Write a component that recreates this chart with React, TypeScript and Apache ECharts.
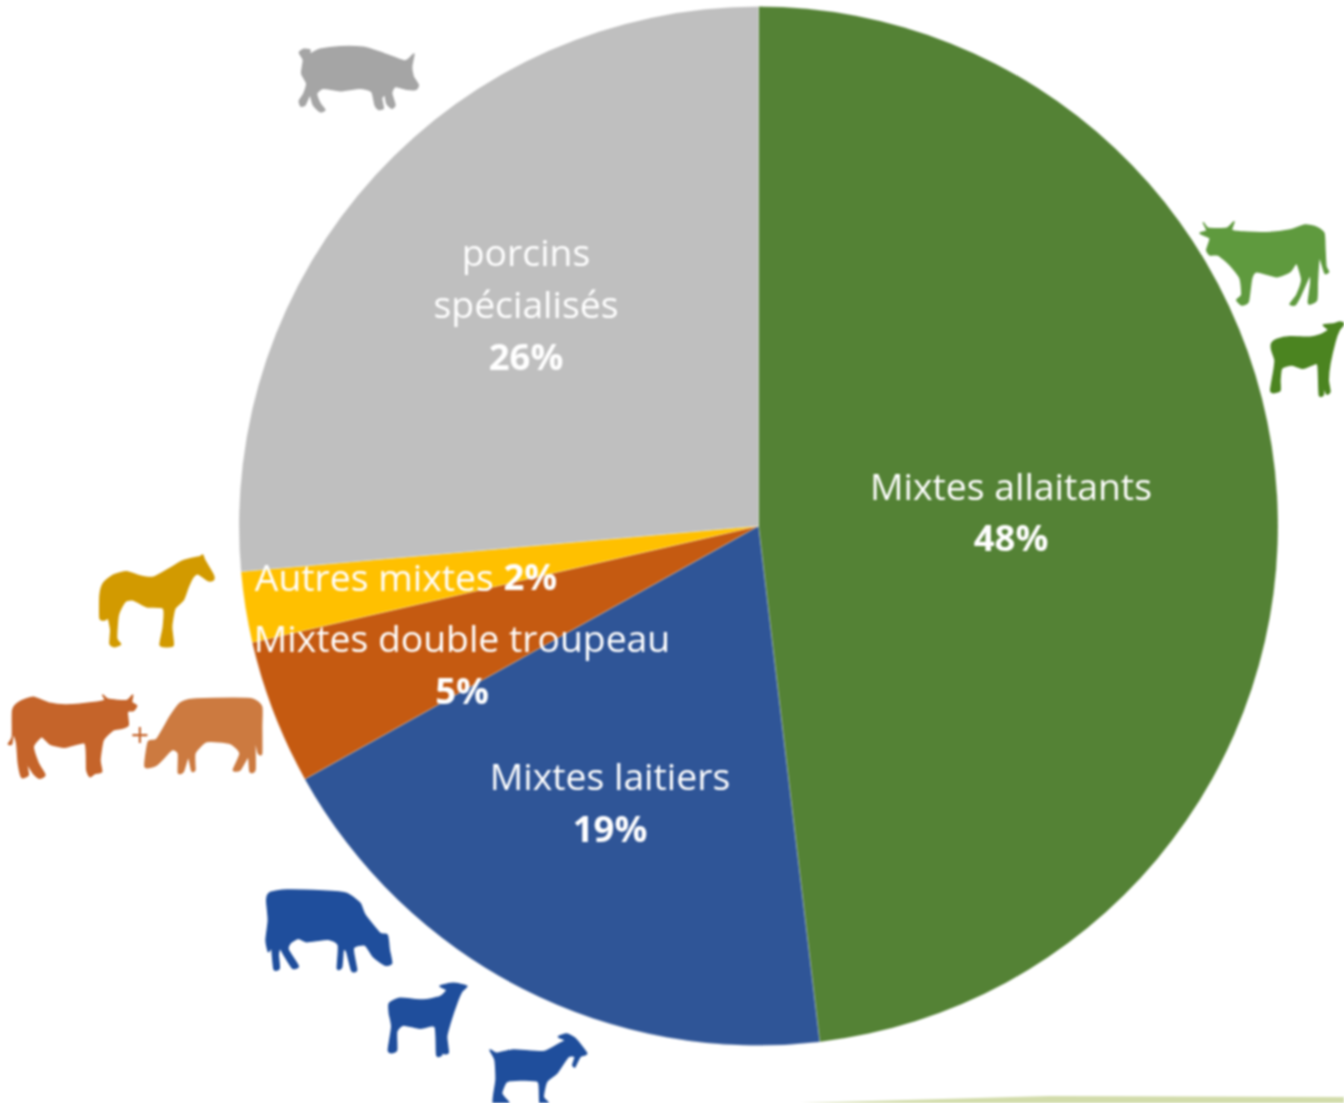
import React, { useEffect, useRef } from "react";
import * as echarts from "echarts";

const categories = ["Mixtes allaitants", "Mixtes laitiers", "Mixtes double troupeau", "Autres mixtes", "porcins spécialisés"];
const shares = [48.12, 18.78, 4.5, 2.2, 26.4];
const sliceColors = ["#548235", "#2f5597", "#c55a11", "#ffc000", "#bfbfbf"];
const labelLines = [["Mixtes allaitants"], ["Mixtes laitiers"], ["Mixtes double troupeau"], [], ["porcins", "spécialisés"]];
const labelCentres = [[1011, 511], [610, 801.5], [462, 663.5], [406, 576], [526, 303.5]];

type Pts = number[][];
const cowGreen: Pts = [[70,68],[85,85],[140,85],[162,65],[155,90],[180,95],[260,98],[330,90],[375,75],[410,82],[432,100],[435,150],[438,200],[446,215],[435,220],[425,190],[420,170],[415,195],[412,250],[410,300],[390,312],[385,305],[392,250],[390,225],[360,290],[345,315],[330,312],[350,285],[365,240],[350,190],[330,215],[290,230],[230,215],[215,235],[205,305],[185,315],[170,300],[185,285],[180,235],[150,195],[115,165],[90,165],[80,150],[90,115],[60,100],[80,92]];
const sheepGreen: Pts = [[430,375],[460,372],[480,366],[492,372],[478,390],[465,425],[450,490],[445,540],[450,575],[440,582],[432,560],[430,585],[418,585],[415,510],[410,490],[370,505],[335,495],[305,505],[300,540],[300,572],[280,578],[272,570],[282,510],[285,480],[275,450],[275,430],[290,418],[330,410],[390,412],[420,405],[445,390]];
const pig: Pts = [[58,68],[72,58],[90,60],[90,72],[120,58],[180,50],[250,52],[310,70],[370,92],[385,88],[402,72],[395,110],[400,140],[415,165],[408,178],[380,178],[345,170],[335,190],[345,225],[335,235],[320,220],[315,195],[305,205],[310,235],[295,238],[285,225],[275,185],[240,175],[180,182],[130,175],[110,190],[120,220],[135,240],[120,245],[100,225],[90,195],[75,225],[62,228],[58,212],[72,190],[80,160],[65,130],[70,90]];
const horse: Pts = [[300,165],[310,130],[340,105],[380,95],[420,108],[460,112],[510,85],[550,62],[600,50],[608,45],[615,62],[640,105],[640,120],[625,122],[595,102],[580,110],[565,140],[550,180],[525,205],[515,260],[520,315],[500,320],[480,315],[490,260],[490,205],[440,200],[400,180],[375,185],[355,225],[350,295],[362,312],[345,320],[330,312],[332,270],[325,235],[315,240],[300,235]];
const cowOrange: Pts = [[38,510],[60,485],[100,472],[150,490],[200,495],[290,487],[315,480],[308,465],[325,478],[380,482],[398,465],[395,487],[410,497],[400,512],[382,515],[385,555],[365,565],[340,570],[310,600],[300,660],[305,695],[285,700],[270,710],[260,690],[255,610],[195,622],[150,612],[125,590],[100,620],[115,670],[135,705],[118,715],[100,700],[80,670],[85,705],[65,712],[55,670],[50,610],[40,580],[35,612],[25,612],[37,590]];
const cowLight: Pts = [[435,680],[445,605],[470,598],[510,530],[540,490],[580,478],[700,475],[760,478],[785,500],[785,560],[785,640],[775,640],[765,600],[765,690],[750,695],[745,650],[720,690],[700,690],[720,640],[690,610],[620,605],[585,640],[585,690],[575,692],[565,650],[550,695],[535,698],[535,640],[515,630],[470,675]];
const cowBlue: Pts = [[50,60],[60,38],[110,30],[220,33],[290,40],[330,70],[345,105],[390,160],[412,165],[418,210],[425,250],[405,255],[370,230],[345,195],[310,205],[320,270],[305,272],[290,215],[280,210],[275,262],[262,265],[265,195],[235,178],[170,185],[145,175],[120,190],[115,210],[145,258],[128,265],[105,230],[90,205],[85,225],[88,265],[72,268],[65,205],[55,215],[48,180],[55,120]];
const sheepBlue: Pts = [[418,370],[450,355],[520,360],[570,350],[590,330],[570,318],[610,310],[650,318],[635,335],[620,370],[600,430],[590,470],[595,518],[580,520],[575,500],[575,525],[560,525],[555,440],[510,445],[460,435],[440,455],[440,510],[425,518],[415,510],[425,440],[418,400]];
const goat: Pts = [[720,510],[740,520],[790,510],[880,515],[930,490],[945,480],[925,470],[950,462],[975,475],[1010,520],[990,530],[975,560],[968,555],[975,530],[955,530],[920,580],[890,605],[880,650],[895,669],[870,669],[865,605],[810,600],[770,605],[755,640],[770,660],[775,669],[730,669],[738,600],[735,540]];

// Closed Catmull-Rom outline through the traced points, so the silhouettes read as organic shapes.
const toPath = (pts: Pts, ox: number, oy: number) => {
  const q = pts.map((p) => [ox + p[0] / 3, oy + p[1] / 3]);
  const n = q.length;
  const f = (v: number) => v.toFixed(1);
  let d = `M${f(q[0][0])} ${f(q[0][1])}`;
  for (let i = 0; i < n; i++) {
    const a = q[(i - 1 + n) % n], b = q[i], c = q[(i + 1) % n], e = q[(i + 2) % n];
    const k = 0.1;
    d += ` C${f(b[0] + (c[0] - a[0]) * k)} ${f(b[1] + (c[1] - a[1]) * k)} ${f(c[0] - (e[0] - b[0]) * k)} ${f(c[1] - (e[1] - b[1]) * k)} ${f(c[0])} ${f(c[1])}`;
  }
  return d + " Z";
};

const animals: [string, Pts, number, number, string][] = [
  ["cowGreen", cowGreen, 1180, 200, "#5f9a3e"],
  ["sheepGreen", sheepGreen, 1180, 200, "#4b8420"],
  ["pig", pig, 280, 30, "#a5a5a5"],
  ["horse", horse, 0, 540, "#d29a00"],
  ["cowOrange", cowOrange, 0, 540, "#c5642a"],
  ["cowLight", cowLight, 0, 540, "#cc7a40"],
  ["cowBlue", cowBlue, 250, 880, "#1f4e9c"],
  ["sheepBlue", sheepBlue, 250, 880, "#1f4e9c"],
  ["goat", goat, 250, 880, "#1f4e9c"],
];
animals.forEach(([name, pts, ox, oy]) => {
  echarts.graphic.registerShape(name, echarts.graphic.extendPath(toPath(pts, ox, oy), {}) as any);
});

export default function App() {
  const ref = useRef<HTMLDivElement>(null);
  useEffect(() => {
    const chart = echarts.init(ref.current!, undefined, { renderer: "svg" });
    chart.setOption({
      animation: false,
      backgroundColor: "#ffffff",
      graphic: [
        ...animals.map(([name, , , , color]) => ({
          type: name, x: 0, y: 0,
          style: { fill: color, stroke: color, lineWidth: 1.4, lineJoin: "round" },
        })),
        { type: "polygon", shape: { points: [[765, 1104], [1050, 1096], [1344, 1097], [1344, 1104]] }, style: { fill: "#d2dcab" } },
        { type: "text", x: 140, y: 734, style: { text: "+", fill: "#c5642a", fontSize: 32, fontFamily: "Open Sans", align: "center", verticalAlign: "middle" } },
      ],
      series: [
        {
          type: "pie",
          center: [758.5, 526],
          radius: [0, 519.5],
          startAngle: 90,
          clockwise: true,
          avoidLabelOverlap: false,
          labelLine: { show: false },
          itemStyle: { borderColor: "rgba(255,255,255,0.3)", borderWidth: 0.8 },
          label: {
            show: true,
            position: "inside",
            color: "#ffffff",
            fontFamily: "Open Sans",
            formatter: (p: any) => {
              const pct = `{b|${Math.round(p.value)}%}`;
              if (p.dataIndex === 3) return `{n|${categories[3]} }${pct}`;
              return [...labelLines[p.dataIndex].map((t) => `{n|${t}}`), pct].join("\n");
            },
            rich: {
              n: { color: "#ffffff", fontFamily: "Open Sans", fontSize: 37.3, lineHeight: 52 },
              b: { color: "#ffffff", fontFamily: "Open Sans", fontSize: 36.5, fontWeight: "bold", lineHeight: 52 },
            },
          },
          labelLayout: (p: any) => ({
            x: labelCentres[p.dataIndex][0],
            y: labelCentres[p.dataIndex][1],
            align: "center",
            verticalAlign: "middle",
          }),
          data: categories.map((name, i) => ({ name, value: shares[i], itemStyle: { color: sliceColors[i] } })),
        },
      ],
    });
    return () => chart.dispose();
  }, []);
  return <div ref={ref} style={{ position: "absolute", left: 0, top: 0, width: 1344, height: 1103, filter: "blur(0.8px)" }} />;
}
